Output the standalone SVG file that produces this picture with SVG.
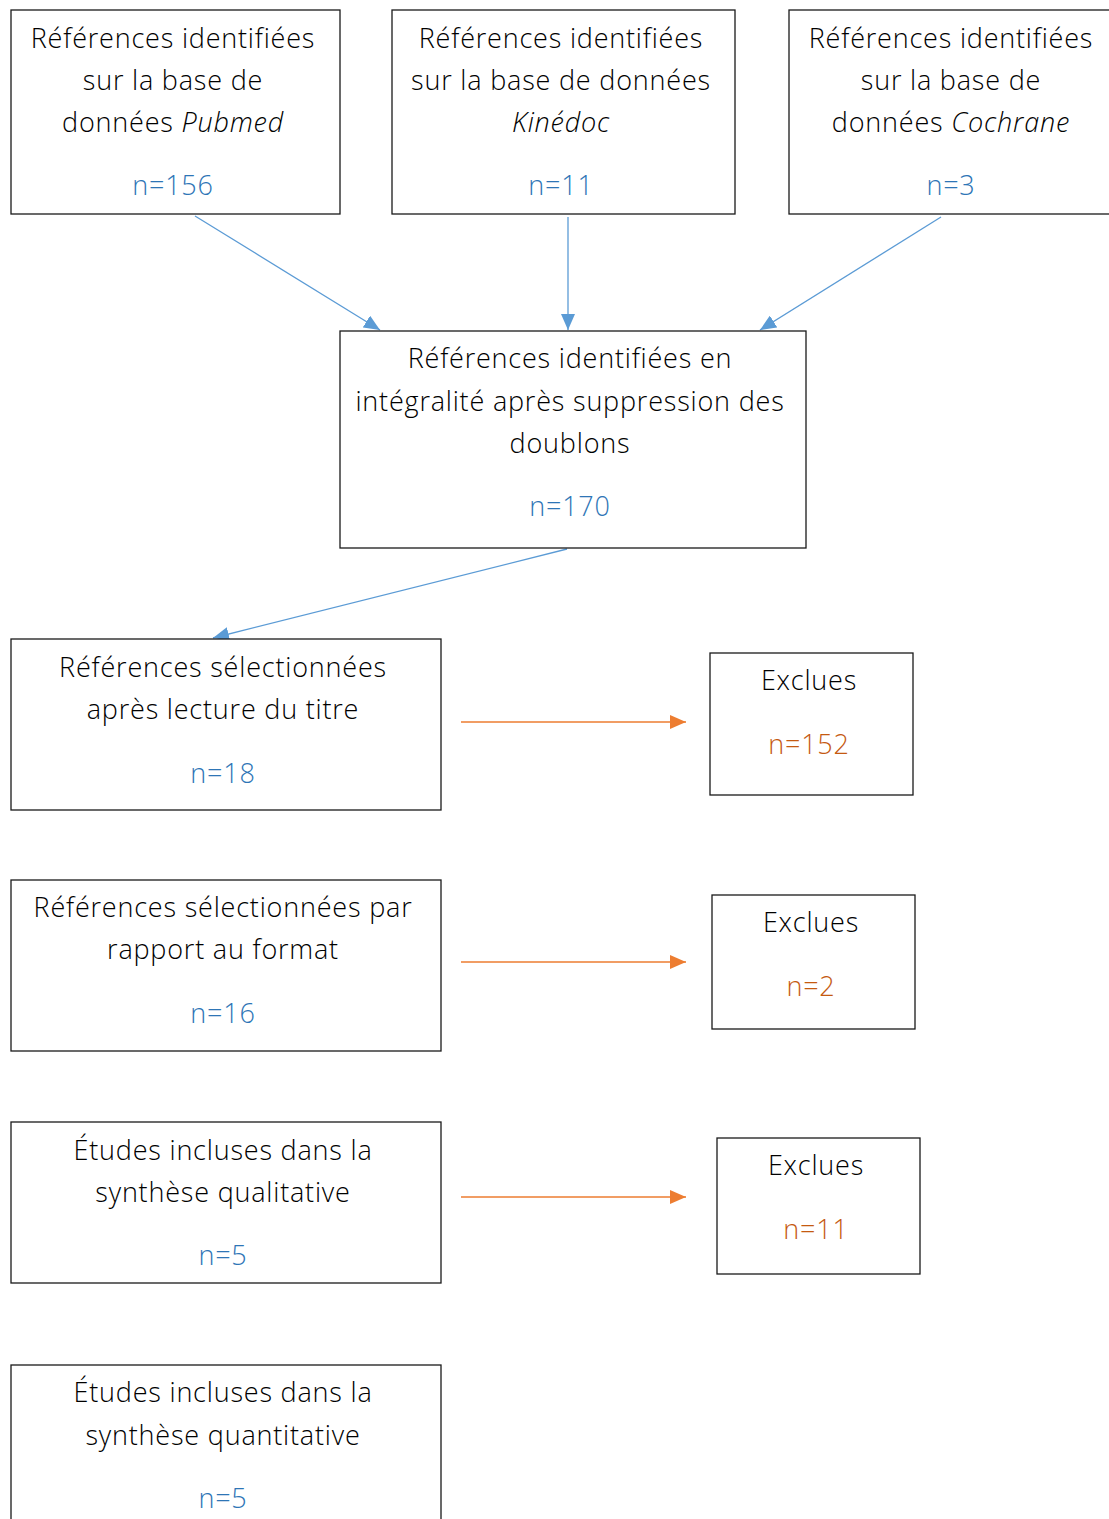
<svg xmlns="http://www.w3.org/2000/svg" width="1109" height="1519" viewBox="0 0 1109 1519">
<style>
text{font-family:"Open Sans","Noto Sans","Liberation Sans",sans-serif;font-weight:300;font-size:27px;letter-spacing:0.8px;text-anchor:middle;fill:#000}
.n{fill:#2E75B6}
.o{fill:#C55A11}
.box{fill:#fff;stroke:#1a1a1a;stroke-width:1.3}
.b{stroke:#5B9BD5;stroke-width:1.3;fill:none}
.r{stroke:#ED7D31;stroke-width:1.3;fill:none}
</style>
<defs>
<marker id="ab" markerUnits="userSpaceOnUse" markerWidth="16" markerHeight="14" refX="16" refY="7" orient="auto"><path d="M0,0L16,7L0,14z" fill="#5B9BD5"/></marker>
<marker id="ao" markerUnits="userSpaceOnUse" markerWidth="16" markerHeight="14" refX="16" refY="7" orient="auto"><path d="M0,0L16,7L0,14z" fill="#ED7D31"/></marker>
</defs>
<rect width="1109" height="1519" fill="#fff"/>
<g id="connectors">
<line class="b" x1="195" y1="216" x2="380" y2="330" marker-end="url(#ab)"/>
<line class="b" x1="568" y1="217" x2="568" y2="330" marker-end="url(#ab)"/>
<line class="b" x1="941" y1="217" x2="760" y2="330" marker-end="url(#ab)"/>
<line class="b" x1="567" y1="549" x2="213" y2="638" marker-end="url(#ab)"/>
<line class="r" x1="461" y1="722" x2="686" y2="722" marker-end="url(#ao)"/>
<line class="r" x1="461" y1="962" x2="686" y2="962" marker-end="url(#ao)"/>
<line class="r" x1="461" y1="1197" x2="686" y2="1197" marker-end="url(#ao)"/>
</g>
<g id="pubmed">
<rect class="box" x="11" y="10" width="329" height="204"/>
<text x="173" y="48">Références identifiées</text>
<text x="173" y="90">sur la base de</text>
<text x="173" y="132">données <tspan font-style="italic">Pubmed</tspan></text>
<text class="n" x="173" y="195">n=156</text>
</g>
<g id="kinedoc">
<rect class="box" x="392" y="10" width="343" height="204"/>
<text x="561" y="48">Références identifiées</text>
<text x="561" y="90">sur la base de données</text>
<text x="561" y="132" font-style="italic">Kinédoc</text>
<text class="n" x="561" y="195">n=11</text>
</g>
<g id="cochrane">
<rect class="box" x="789" y="10" width="340" height="204"/>
<text x="951" y="48">Références identifiées</text>
<text x="951" y="90">sur la base de</text>
<text x="951" y="132">données <tspan font-style="italic">Cochrane</tspan></text>
<text class="n" x="951" y="195">n=3</text>
</g>
<g id="doublons">
<rect class="box" x="340" y="331" width="466" height="217"/>
<text x="570" y="368">Références identifiées en</text>
<text x="570" y="411">intégralité après suppression des</text>
<text x="570" y="453">doublons</text>
<text class="n" x="570" y="516">n=170</text>
</g>
<g id="titre">
<rect class="box" x="11" y="639" width="430" height="171"/>
<text x="223" y="677">Références sélectionnées</text>
<text x="223" y="719">après lecture du titre</text>
<text class="n" x="223" y="783">n=18</text>
</g>
<g id="exclues1">
<rect class="box" x="710" y="653" width="203" height="142"/>
<text x="809" y="690">Exclues</text>
<text class="o" x="809" y="754">n=152</text>
</g>
<g id="format">
<rect class="box" x="11" y="880" width="430" height="171"/>
<text x="223" y="917">Références sélectionnées par</text>
<text x="223" y="959">rapport au format</text>
<text class="n" x="223" y="1023">n=16</text>
</g>
<g id="exclues2">
<rect class="box" x="712" y="895" width="203" height="134"/>
<text x="811" y="932">Exclues</text>
<text class="o" x="811" y="996">n=2</text>
</g>
<g id="qualitative">
<rect class="box" x="11" y="1122" width="430" height="161"/>
<text x="223" y="1160">Études incluses dans la</text>
<text x="223" y="1202">synthèse qualitative</text>
<text class="n" x="223" y="1265">n=5</text>
</g>
<g id="exclues3">
<rect class="box" x="717" y="1138" width="203" height="136"/>
<text x="816" y="1175">Exclues</text>
<text class="o" x="816" y="1239">n=11</text>
</g>
<g id="quantitative">
<rect class="box" x="11" y="1365" width="430" height="180"/>
<text x="223" y="1402">Études incluses dans la</text>
<text x="223" y="1445">synthèse quantitative</text>
<text class="n" x="223" y="1508">n=5</text>
</g>
</svg>
